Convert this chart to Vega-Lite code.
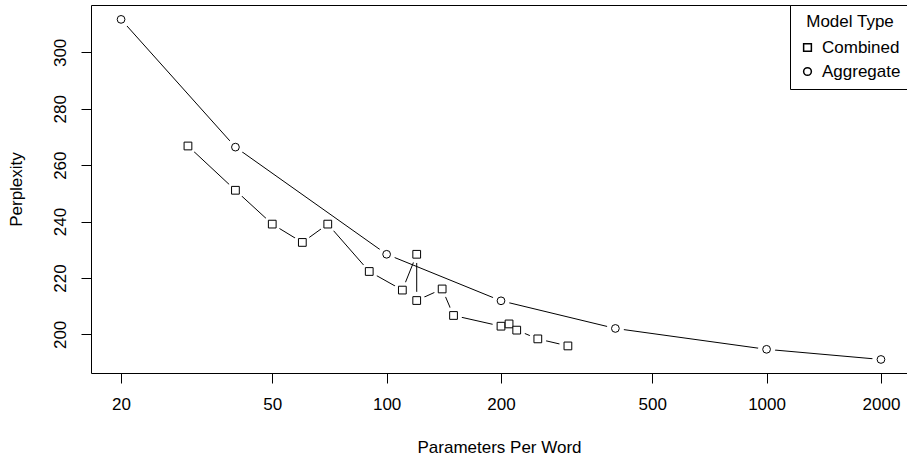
{
  "$schema": "https://vega.github.io/schema/vega-lite/v6.json",
  "autosize": {"type": "none"},
  "padding": {"left": 91, "top": 5, "right": 0, "bottom": 84},
  "width": 816,
  "height": 368,
  "background": "white",
  "config": {
    "view": {"stroke": "black", "strokeWidth": 1},
    "font": "Liberation Sans",
    "axis": {
      "domain": false,
      "grid": false,
      "tickColor": "black",
      "tickSize": 10,
      "labelColor": "black",
      "labelFont": "Liberation Sans",
      "labelFontSize": 17,
      "titleFont": "Liberation Sans",
      "titleFontSize": 17,
      "titleFontWeight": "normal",
      "titleColor": "black"
    },
    "legend": {
      "labelFont": "Liberation Sans",
      "labelFontSize": 17,
      "titleFont": "Liberation Sans",
      "titleFontSize": 17,
      "titleFontWeight": "normal",
      "labelColor": "black",
      "titleColor": "black"
    }
  },
  "data": {
    "values": [
      {"series": "Aggregate", "params": 20, "perplexity": 311.7, "order": 1},
      {"series": "Aggregate", "params": 40, "perplexity": 266.4, "order": 2},
      {"series": "Aggregate", "params": 100, "perplexity": 228.4, "order": 3},
      {"series": "Aggregate", "params": 200, "perplexity": 211.9, "order": 4},
      {"series": "Aggregate", "params": 400, "perplexity": 202.1, "order": 5},
      {"series": "Aggregate", "params": 1000, "perplexity": 194.7, "order": 6},
      {"series": "Aggregate", "params": 2000, "perplexity": 191.1, "order": 7},
      {"series": "Combined", "params": 30, "perplexity": 266.8, "order": 1},
      {"series": "Combined", "params": 40, "perplexity": 251.1, "order": 2},
      {"series": "Combined", "params": 50, "perplexity": 239.1, "order": 3},
      {"series": "Combined", "params": 60, "perplexity": 232.6, "order": 4},
      {"series": "Combined", "params": 70, "perplexity": 239.1, "order": 5},
      {"series": "Combined", "params": 90, "perplexity": 222.3, "order": 6},
      {"series": "Combined", "params": 110, "perplexity": 215.7, "order": 7},
      {"series": "Combined", "params": 120, "perplexity": 228.4, "order": 8},
      {"series": "Combined", "params": 120, "perplexity": 212.0, "order": 9},
      {"series": "Combined", "params": 140, "perplexity": 216.1, "order": 10},
      {"series": "Combined", "params": 150, "perplexity": 206.7, "order": 11},
      {"series": "Combined", "params": 200, "perplexity": 202.9, "order": 12},
      {"series": "Combined", "params": 210, "perplexity": 203.7, "order": 13},
      {"series": "Combined", "params": 220, "perplexity": 201.5, "order": 14},
      {"series": "Combined", "params": 250, "perplexity": 198.4, "order": 15},
      {"series": "Combined", "params": 300, "perplexity": 195.9, "order": 16}
    ]
  },
  "encoding": {
    "x": {
      "field": "params",
      "type": "quantitative",
      "scale": {"type": "log", "domain": [16.67, 2342], "nice": false},
      "axis": {
        "title": "Parameters Per Word",
        "values": [20, 50, 100, 200, 500, 1000, 2000],
        "format": "d",
        "labelPadding": 13,
        "titlePadding": 27,
        "labelFlush": false,
        "labelOverlap": false
      }
    },
    "y": {
      "field": "perplexity",
      "type": "quantitative",
      "scale": {"domain": [186.3, 316.8], "nice": false, "zero": false},
      "axis": {
        "title": "Perplexity",
        "values": [200, 220, 240, 260, 280, 300],
        "labelAngle": -90,
        "labelAlign": "center",
        "labelBaseline": "bottom",
        "labelPadding": 12,
        "titlePadding": 26,
        "labelFlush": false,
        "labelOverlap": false
      }
    }
  },
  "layer": [
    {
      "mark": {"type": "line", "color": "black", "strokeWidth": 1},
      "encoding": {
        "detail": {"field": "series"},
        "order": {"field": "order", "type": "quantitative"}
      }
    },
    {
      "mark": {"type": "point", "shape": "circle", "filled": true, "fill": "white", "opacity": 1, "size": 300, "strokeWidth": 0}
    },
    {
      "mark": {"type": "point", "filled": true, "fill": "white", "stroke": "black", "strokeWidth": 1, "opacity": 1, "size": 60},
      "encoding": {
        "shape": {
          "field": "series",
          "type": "nominal",
          "scale": {"domain": ["Combined", "Aggregate"], "range": ["square", "circle"]},
          "legend": {
            "title": "Model Type",
            "orient": "none",
            "legendX": 699,
            "legendY": 0,
            "strokeColor": "black",
            "fillColor": "white",
            "padding": 9,
            "titleAnchor": "middle",
            "titlePadding": 8,
            "rowPadding": 6,
            "symbolSize": 60,
            "labelOffset": 6,
            "offset": 0,
            "encode": {
              "symbols": {
                "update": {
                  "fill": {"value": "white"},
                  "stroke": {"value": "black"},
                  "strokeWidth": {"value": 1},
                  "opacity": {"value": 1}
                }
              }
            }
          }
        }
      }
    }
  ]
}
